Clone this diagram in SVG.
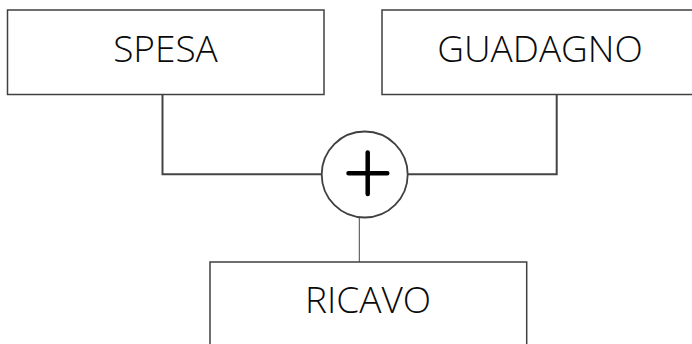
<svg xmlns="http://www.w3.org/2000/svg" width="692" height="344" viewBox="0 0 692 344">
<style>
.box{fill:#fff;stroke:#404040;stroke-width:1.5}
.lbl{font-family:"Open Sans","Noto Sans",sans-serif;font-weight:300;font-size:37px;fill:#0a0a0a;text-anchor:middle}
.conn{fill:none;stroke:#444;stroke-width:2}
</style>
<rect width="692" height="344" fill="#fff"/>
<g id="connectors">
<polyline class="conn" points="162.5,94.5 162.5,174.3 322,174.3"/>
<polyline class="conn" points="556.7,94.5 556.7,174.3 407,174.3"/>
<line x1="359.3" y1="217" x2="359.3" y2="262" stroke="#444" stroke-width="1"/>
</g>
<g id="spesa">
<rect class="box" x="7.5" y="10" width="316.5" height="84.5"/>
<text class="lbl" x="165.5" y="62">SPESA</text>
</g>
<g id="guadagno">
<rect class="box" x="382" y="10" width="317" height="84.5"/>
<text class="lbl" x="540" y="62">GUADAGNO</text>
</g>
<g id="somma">
<circle cx="364.7" cy="174.5" r="43" fill="#fff" stroke="#404040" stroke-width="1.8"/>
<path d="M348.5 173.3H387.3M367.7 152.5V194" stroke="#000" stroke-width="4.5" stroke-linecap="round"/>
</g>
<g id="ricavo">
<rect class="box" x="210" y="262" width="316.7" height="90"/>
<text class="lbl" x="368" y="313">RICAVO</text>
</g>
</svg>
